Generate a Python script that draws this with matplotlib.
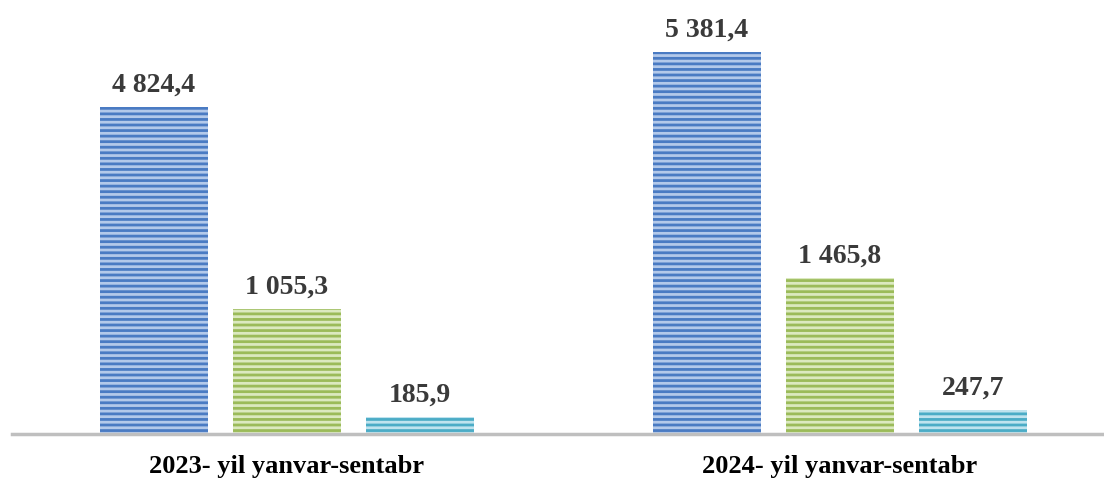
import matplotlib.pyplot as plt
import numpy as np

categories = ['2023- yil yanvar-sentabr', '2024- yil yanvar-sentabr']
# heights as drawn in the picture (the printed labels do not match the bar heights)
blue_heights = [4606, 5381.4]
green_heights = [1761, 2198]
teal_heights = [240, 338]
blue_labels = ['4 824,4', '5 381,4']
green_labels = ['1 055,3', '1 465,8']
teal_labels = ['185,9', '247,7']


def main():
    fig = plt.figure(figsize=(11.04, 4.79), dpi=100)
    ax = fig.add_axes([12 / 1104, 45 / 479, 1092 / 1104, 434 / 479])

    x = np.arange(len(categories))
    width = 0.1953
    step = 0.2405
    series = [
        (blue_heights, blue_labels, '#b3c9ea', '#4a7bc3', -step),
        (green_heights, green_labels, '#dbe9bf', '#9bbb59', 0),
        (teal_heights, teal_labels, '#bfe3ee', '#4bacc6', step),
    ]
    plt.rcParams['hatch.linewidth'] = 2.0
    for heights, labels, face, hatch_col, off in series:
        bars = ax.bar(x + off, heights, width, color=face, edgecolor=hatch_col,
                      hatch='---', linewidth=0)
        for b, lab in zip(bars, labels):
            ax.annotate(lab, (b.get_x() + b.get_width() / 2, b.get_height()),
                        xytext=(0, 7), textcoords='offset points',
                        ha='center', va='bottom', fontsize=20, fontweight='bold',
                        family='Liberation Serif', color='#3a3a3a')

    ax.set_xlim(-0.4973, 1.4774)
    ax.set_ylim(0, 5381.4 * 434 / 382)
    for s in ['top', 'right', 'left']:
        ax.spines[s].set_visible(False)
    ax.spines['bottom'].set_color('#bfbfbf')
    ax.spines['bottom'].set_linewidth(2.5)
    ax.set_yticks([])
    ax.set_xticks(x)
    ax.set_xticklabels(categories, fontsize=19, fontweight='bold', family='Liberation Serif')
    ax.tick_params(axis='x', length=0, pad=15)

    fig.savefig('out.png', dpi=100)


if __name__ == "__main__":
    main()
